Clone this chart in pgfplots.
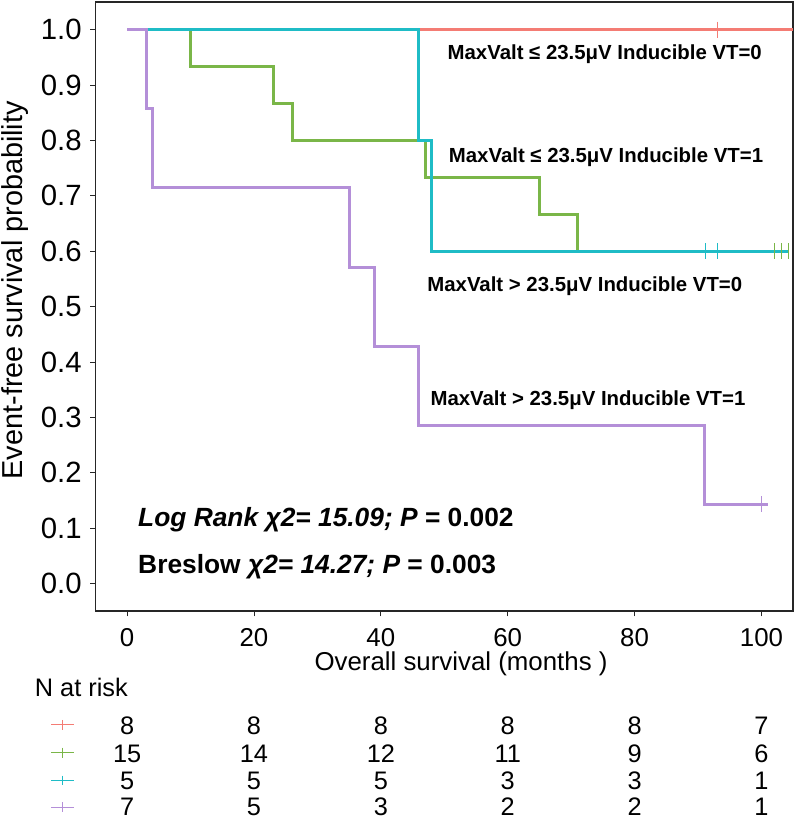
\documentclass[border=0pt]{standalone}
\usepackage{fontspec}
\setmainfont{Liberation Sans}
\usepackage{pgfplots}
\pgfplotsset{compat=1.18}
\definecolor{kmred}{HTML}{F47C74}
\definecolor{kmgreen}{HTML}{7AB648}
\definecolor{kmcyan}{HTML}{1FBCC6}
\definecolor{kmpurple}{HTML}{B48FD8}
\newcommand\rkfont{\fontsize{25.5bp}{26bp}\selectfont}
\newcommand\rk[3]{\node[anchor=base,font=\rkfont,inner sep=0pt] at (axis cs:#1,#2) {#3};}
\begin{document}
\begin{tikzpicture}
\path[use as bounding box] (-96bp,-213bp) rectangle (704bp,615bp);
\begin{axis}[
  at={(0,0)}, anchor=south west,
  width=702bp, height=613bp, scale only axis,
  xmin=-5, xmax=105, ymin=-0.05, ymax=1.05,
  clip=false,
  axis line style={line width=1.6bp, black!85},
  tick align=outside, tick pos=left,
  major tick length=5bp,
  tick style={line width=1bp, black!85},
  xtick={0,20,40,60,80,100},
  ytick={0,0.1,0.2,0.3,0.4,0.5,0.6,0.7,0.8,0.9,1.0},
  /pgf/number format/assume math mode=true,
  yticklabel style={/pgf/number format/.cd, fixed, fixed zerofill, precision=1, /tikz/.cd,
    font=\fontsize{29.5bp}{30bp}\selectfont, anchor=east, inner sep=0pt, xshift=-8.7bp},
  xticklabel style={font=\fontsize{26bp}{27bp}\selectfont, anchor=center, inner sep=0pt, yshift=-21bp},
  xlabel={Overall survival (months )},
  xlabel style={font=\fontsize{26bp}{27bp}\selectfont, at={(axis description cs:0.524,-0.0979)}, anchor=base, inner sep=0pt},
  ylabel={Event-free survival probability},
  ylabel style={font=\fontsize{29bp}{30bp}\selectfont, at={(axis description cs:-0.1154,0.527)}, anchor=center},
]
% survival curves
\addplot[kmred, line width=2.6bp, const plot, mark=none] coordinates {(0,1) (104.9,1)};
\addplot[kmgreen, line width=3bp, const plot, mark=none] coordinates {(0,1) (10,0.9333) (23,0.8667) (26,0.8) (47,0.7333) (65,0.6667) (71,0.6) (104.2,0.6)};
\addplot[kmcyan, line width=3bp, const plot, mark=none] coordinates {(0,1) (46,0.8) (48,0.6) (104.2,0.6)};
\addplot[kmpurple, line width=3bp, const plot, mark=none] coordinates {(0,1) (3,0.8571) (4,0.7143) (35,0.5714) (39,0.4286) (46,0.2857) (91,0.1429) (101,0.1429)};
% censoring marks
\addplot[only marks, mark=|, mark size=8bp, kmred, mark options={line width=1bp}] coordinates {(93.1,1)};
\addplot[only marks, mark=|, mark size=8bp, kmcyan, mark options={line width=1bp}] coordinates {(91.1,0.6) (93.1,0.6)};
\addplot[only marks, mark=|, mark size=8bp, kmgreen, mark options={line width=1bp}] coordinates {(102,0.6) (103.1,0.6) (104.2,0.6)};
\addplot[only marks, mark=|, mark size=8bp, kmpurple, mark options={line width=1bp}] coordinates {(100,0.1429)};
% curve labels
\node[anchor=base west, inner sep=0pt, font=\bfseries\fontsize{20.5bp}{22bp}\selectfont] at (axis cs:50.5,0.9464) {MaxValt ≤ 23.5μV Inducible VT=0};
\node[anchor=base west, inner sep=0pt, font=\bfseries\fontsize{20.5bp}{22bp}\selectfont] at (axis cs:50.7,0.761) {MaxValt ≤ 23.5μV Inducible VT=1};
\node[anchor=base west, inner sep=0pt, font=\bfseries\fontsize{20.5bp}{22bp}\selectfont] at (axis cs:47.3,0.5279) {MaxValt > 23.5μV Inducible VT=0};
\node[anchor=base west, inner sep=0pt, font=\bfseries\fontsize{20.5bp}{22bp}\selectfont] at (axis cs:47.8,0.3216) {MaxValt > 23.5μV Inducible VT=1};
% statistics
\node[anchor=base west, inner sep=0pt, font=\bfseries\fontsize{26.5bp}{28bp}\selectfont] at (axis cs:1.72,0.1024) {\itshape Log Rank χ2= 15.09; P\upshape\ = 0.002};
\node[anchor=base west, inner sep=0pt, font=\bfseries\fontsize{26.5bp}{28bp}\selectfont] at (axis cs:1.72,0.0181) {Breslow \itshape χ2= 14.27; P\upshape\ = 0.003};
% number at risk table
\node[anchor=base west, inner sep=0pt, font=\rkfont] at (axis cs:-14.58,-0.203) {N at risk};
\addplot[kmred, line width=1.2bp, mark=|, mark size=5bp, mark indices={2}, mark options={line width=1.2bp}] coordinates {(-11.99,-0.2551) (-10.19,-0.2551) (-8.39,-0.2551)};
\addplot[kmgreen, line width=1.2bp, mark=|, mark size=5bp, mark indices={2}, mark options={line width=1.2bp}] coordinates {(-11.99,-0.3053) (-10.19,-0.3053) (-8.39,-0.3053)};
\addplot[kmcyan, line width=1.2bp, mark=|, mark size=5bp, mark indices={2}, mark options={line width=1.2bp}] coordinates {(-11.99,-0.3555) (-10.19,-0.3555) (-8.39,-0.3555)};
\addplot[kmpurple, line width=1.2bp, mark=|, mark size=5bp, mark indices={2}, mark options={line width=1.2bp}] coordinates {(-11.99,-0.4040) (-10.19,-0.4040) (-8.39,-0.4040)};
\rk{0}{-0.2717}{8}\rk{20}{-0.2717}{8}\rk{40}{-0.2717}{8}\rk{60}{-0.2717}{8}\rk{80}{-0.2717}{8}\rk{100}{-0.2717}{7}
\rk{0}{-0.3222}{15}\rk{20}{-0.3222}{14}\rk{40}{-0.3222}{12}\rk{60}{-0.3222}{11}\rk{80}{-0.3222}{9}\rk{100}{-0.3222}{6}
\rk{0}{-0.3724}{5}\rk{20}{-0.3724}{5}\rk{40}{-0.3724}{5}\rk{60}{-0.3724}{3}\rk{80}{-0.3724}{3}\rk{100}{-0.3724}{1}
\rk{0}{-0.4186}{7}\rk{20}{-0.4186}{5}\rk{40}{-0.4186}{3}\rk{60}{-0.4186}{2}\rk{80}{-0.4186}{2}\rk{100}{-0.4186}{1}
\end{axis}
\end{tikzpicture}
\end{document}
